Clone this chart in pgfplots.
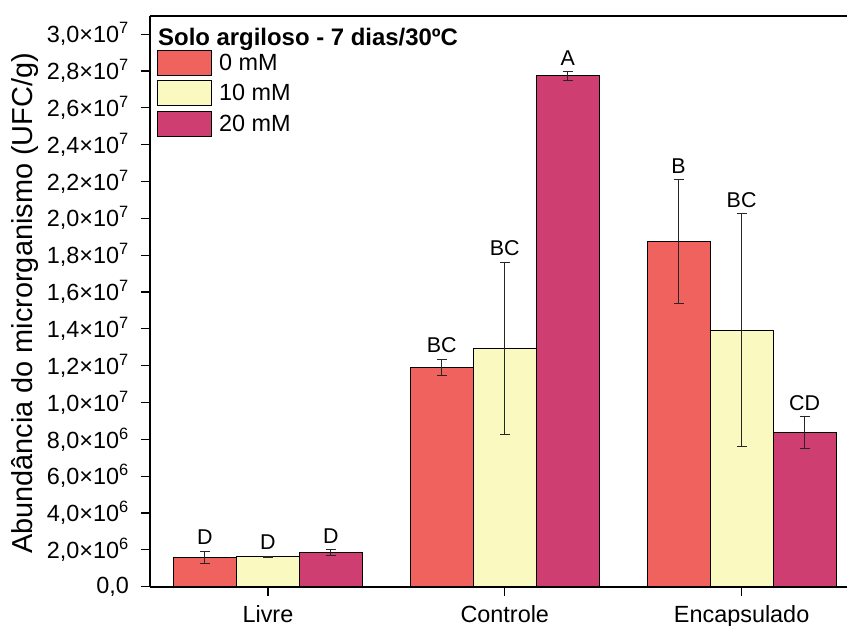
\documentclass[border=0pt]{standalone}
\usepackage{fontspec}
\setmainfont{Liberation Sans}
\usepackage{pgfplots}
\pgfplotsset{compat=1.18}
\definecolor{cRed}{RGB}{240,98,94}
\definecolor{cYel}{RGB}{250,250,192}
\definecolor{cMag}{RGB}{206,62,112}
\newcommand{\tk}[2]{#1×10\textsuperscript{#2}}
\pgfplotsset{
  mybar/.style={ybar, bar width=0.266, bar shift=0, fill=#1, draw=black, line width=0.9bp,
    error bars/.cd, y dir=both, y explicit, error bar style={line width=0.9bp, black!85},
    error mark options={rotate=90, mark size=5bp, line width=0.9bp, black!85}},
}
\begin{document}
\begin{tikzpicture}
\begin{axis}[
  scale only axis, width=697bp, height=571bp,
  xmin=-0.498, xmax=2.445, ymin=0, ymax=3.1e7,
  axis lines=left, axis line style={line width=1.8bp, -},
  xtick={0,1,2}, xticklabels={Livre,Controle,Encapsulado},
  ytick={0,2e6,4e6,6e6,8e6,1e7,1.2e7,1.4e7,1.6e7,1.8e7,2e7,2.2e7,2.4e7,2.6e7,2.8e7,3e7},
  yticklabels={{0,0},{\tk{2,0}{6}},{\tk{4,0}{6}},{\tk{6,0}{6}},{\tk{8,0}{6}},{\tk{1,0}{7}},{\tk{1,2}{7}},{\tk{1,4}{7}},{\tk{1,6}{7}},{\tk{1,8}{7}},{\tk{2,0}{7}},{\tk{2,2}{7}},{\tk{2,4}{7}},{\tk{2,6}{7}},{\tk{2,8}{7}},{\tk{3,0}{7}}},
  tick align=outside, major tick length=9bp, tick style={line width=1.2bp, black},
  yticklabel style={font=\fontsize{23.5}{23.5}\selectfont, inner sep=0pt, xshift=-12bp},
  xticklabel style={font=\fontsize{23.5}{23.5}\selectfont, inner sep=0pt, yshift=-10bp},
  ylabel={Abundância do microrganismo (UFC/g)},
  ylabel style={font=\fontsize{29}{29}\selectfont, inner sep=0pt, at={([xshift=-117bp]axis description cs:0,0.496)}, anchor=base},
  legend image code/.code={\draw[#1,draw=black,line width=0.9bp] (0bp,-12.5bp) rectangle (54bp,12.5bp);},
  legend style={at={(axis description cs:0,1)}, anchor=north west, xshift=7bp, yshift=-34bp, draw=none, fill=none, inner sep=0pt, row sep=4.5bp, font=\fontsize{23.5}{23.5}\selectfont, nodes={inner sep=0pt}, /tikz/every odd column/.style={column sep=7bp}},
  legend cell align=left,
]
\addplot[mybar=cRed] coordinates {(-0.266,1.59e6) +- (0,0.35e6) (0.734,1.192e7) +- (0,0.43e6) (1.734,1.874e7) +- (0,0.337e7)};
\addplot[mybar=cYel] coordinates {(0,1.63e6) +- (0,0.03e6) (1,1.293e7) +- (0,0.469e7) (2,1.393e7) +- (0,0.632e7)};
\addplot[mybar=cMag] coordinates {(0.266,1.86e6) +- (0,0.17e6) (1.266,2.773e7) +- (0,0.025e7) (2.266,8.36e6) +- (0,0.88e6)};
\legend{0 mM,10 mM,20 mM}
\addplot[forget plot, draw=none, mark=none, nodes near coords, point meta=explicit symbolic,
  nodes near coords style={anchor=south, inner sep=0pt, yshift=6bp, font=\fontsize{21.5}{21.5}\selectfont}]
  coordinates {(-0.266,1.94e6)[D] (0,1.66e6)[D] (0.266,2.03e6)[D]
    (0.734,1.235e7)[BC] (1,1.762e7)[BC] (1.266,2.798e7)[A]
    (1.734,2.211e7)[B] (2,2.025e7)[BC] (2.266,9.24e6)[CD]};
\draw[line width=1.8bp] (rel axis cs:0,1) -- (rel axis cs:1,1);
\node[anchor=base west, inner sep=0pt, font=\bfseries\fontsize{24}{24}\selectfont] at ([xshift=8bp,yshift=-30bp]rel axis cs:0,1) {Solo argiloso - 7 dias/30ºC};
\coordinate (O) at (rel axis cs:0,0);
\coordinate (T) at (rel axis cs:1,1);
\end{axis}
\pgfresetboundingbox
\path[use as bounding box] ([xshift=-150bp,yshift=-39bp]O) rectangle ([yshift=15.7bp]T);
\end{tikzpicture}
\end{document}
